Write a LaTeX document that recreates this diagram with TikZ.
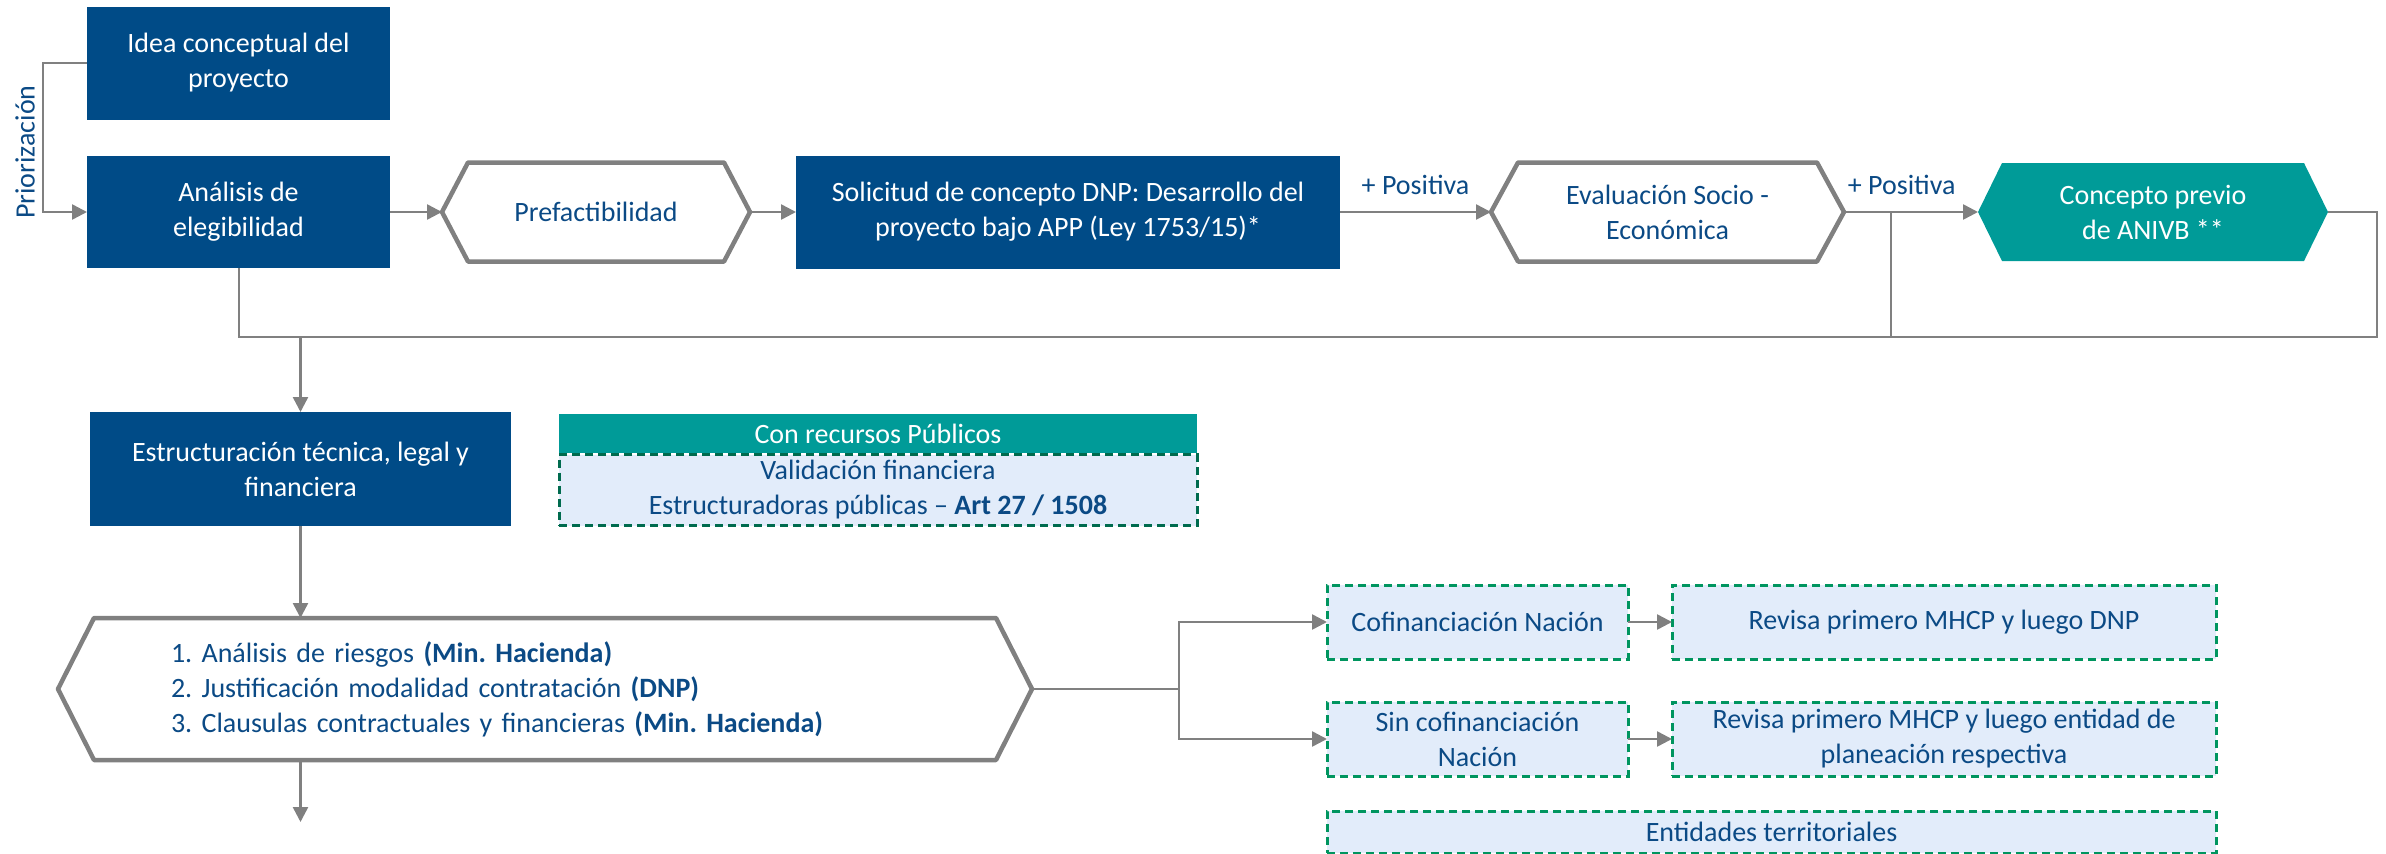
\documentclass[tikz,border=0pt]{standalone}
\usepackage{fontspec}
\setmainfont{Carlito}
\frenchspacing
\usepackage{tikz}
\usetikzlibrary{arrows.meta,backgrounds,positioning}
\definecolor{dblue}{HTML}{004B87}
\definecolor{tblue}{HTML}{0B4A85}
\definecolor{tealbox}{HTML}{009B98}
\definecolor{lineg}{HTML}{808080}
\definecolor{paleblue}{HTML}{E2ECFA}
\definecolor{dashgreen}{HTML}{00955F}
\definecolor{dashdark}{HTML}{006B4E}
\newcommand{\hexframe}[3][]{\draw[hexline,#1] (#2.west) -- ([xshift=#3]#2.north west) -- ([xshift=-#3]#2.north east) -- (#2.east)
					-- ([xshift=-#3]#2.south east) -- ([xshift=#3]#2.south west) -- cycle;}
\tikzset{
	every node/.style={font=\fontsize{28}{35}\selectfont, inner sep=0pt, outer sep=0pt},
	bluebox/.style={fill=dblue, text=white, align=center},
	hexbox/.style={text=tblue, align=center},
	hexline/.style={draw=lineg, line width=4.5pt, line join=round},
	dashbox/.style={fill=paleblue, draw=dashgreen, line width=3pt, dash pattern=on 8pt off 5pt, text=tblue, align=center},
	conn/.style={draw=lineg, line width=2.5pt},
	arr/.style={conn, -{Triangle[length=15pt,width=15pt]}},
	lbl/.style={text=tblue}
}

\begin{document}
\begin{tikzpicture}[x=1pt,y=-1pt]
					\useasboundingbox (0,0) rectangle (2386,854);

					\node[bluebox, minimum width=303pt, minimum height=113pt] (idea) at (238.5,63) {Idea conceptual del\\proyecto};
					\node[bluebox, minimum width=303pt, minimum height=112pt] (ana) at (238.5,212) {Análisis de\\elegibilidad};
					\node[hexbox, minimum width=308pt, minimum height=99pt] (pre) at (596,212) {Prefactibilidad};
					\node[bluebox, minimum width=544pt, minimum height=113pt] (sol) at (1068,212) {Solicitud de concepto DNP: Desarrollo del\\proyecto bajo APP (Ley 1753/15)*};
					\node[hexbox, minimum width=353pt, minimum height=99pt] (eva) at (1667.5,212) {Evaluación Socio -\\Económica};
					\node[hexbox, text=white, minimum width=350pt, minimum height=98pt] (con) at (2153,212) {Concepto previo\\de ANIVB **};

					\node[lbl, rotate=90] (prio) at (25,152) {Priorización};

					\node[bluebox, minimum width=421pt, minimum height=114pt] (est) at (300.5,469) {Estructuración técnica, legal y\\financiera};
					\node[fill=tealbox, text=white, minimum width=638pt, minimum height=39pt] (pub) at (878,433.5) {Con recursos Públicos};
					\node[dashbox, draw=dashdark, minimum width=638pt, minimum height=71pt] (val) at (878,490) {Validación financiera\\Estructuradoras públicas – \textbf{Art 27 / 1508}};

					\node[hexbox, align=left, text width=748pt, minimum width=974pt, minimum height=142pt] (ries) at (545,689)
						{1. Análisis de riesgos \textbf{(Min. Hacienda)}\\2. Justificación modalidad contratación \textbf{(DNP)}\\3. Clausulas contractuales y financieras \textbf{(Min. Hacienda)}};

					\node[dashbox, minimum width=301pt, minimum height=74pt] (cofin) at (1477.5,622) {Cofinanciación Nación};
					\node[dashbox, minimum width=301pt, minimum height=74pt] (sincofin) at (1477.5,739) {Sin cofinanciación\\Nación};
					\node[dashbox, minimum width=544pt, minimum height=74pt] (rev1) at (1944,622) {Revisa primero MHCP y luego DNP};
					\node[dashbox, minimum width=544pt, minimum height=74pt] (rev2) at (1944,739) {Revisa primero MHCP y luego entidad de\\planeación respectiva};
					\node[dashbox, minimum width=889pt, minimum height=42pt] (ent) at (1771.5,832) {Entidades territoriales};

					\begin{scope}[on background layer]
						\hexframe{pre}{26pt}
						\hexframe{eva}{27pt}
						\hexframe[fill=tealbox, draw=none]{con}{24pt}
						\hexframe{ries}{36pt}
					\end{scope}

					\coordinate (fbr) at (2377,337);
					\coordinate (br) at (1891,212);
					\coordinate (split) at (1179,689);
					\coordinate (fin) at (300.5,822);

					\draw[arr] (idea.west) -- ++(-44,0) |- (ana.west);
					\draw[arr] (ana.east) -- (pre.west);
					\draw[arr] (pre.east) -- (sol.west);
					\draw[arr] (sol.east) -- (eva.west) node[lbl, midway, above=17pt] (pos1) {+ Positiva};
					\draw[arr] (eva.east) -- (con.west) node[lbl, pos=0.43, above=17pt] (pos2) {+ Positiva};
					\draw[conn, line width=2pt] (ana.south) |- (fbr) |- (con.east);
					\draw[conn, line width=2pt] (br) -- (br |- fbr);
					\draw[arr] (est.north |- fbr) -- (est.north);
					\draw[arr] (est.south) -- (est.south |- ries.north);
					\draw[arr] (fin |- ries.south) -- (fin);
					\draw[conn] (ries.east) -- (split);
					\draw[arr] (split) |- (cofin.west);
					\draw[arr] (split) |- (sincofin.west);
					\draw[arr] (cofin.east) -- (rev1.west);
					\draw[arr] (sincofin.east) -- (rev2.west);

\end{tikzpicture}
\end{document}
